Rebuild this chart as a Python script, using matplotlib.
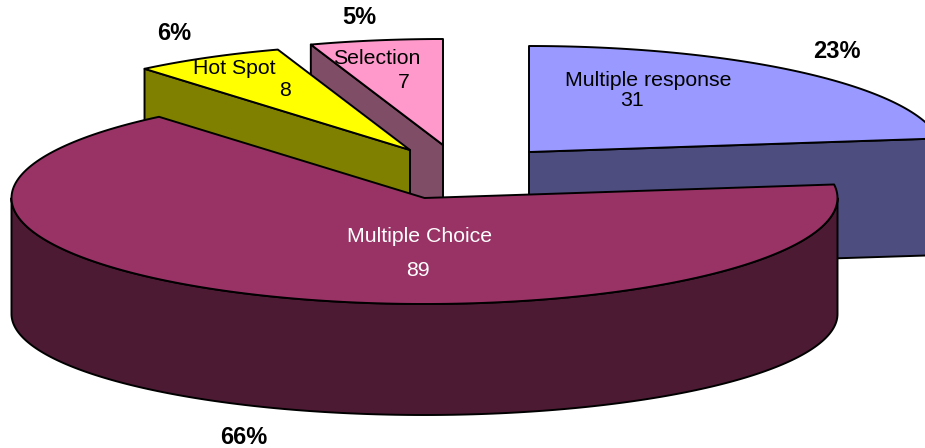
import numpy as np
import matplotlib
matplotlib.use("Agg")
import matplotlib.pyplot as plt

plt.rcParams['font.family'] = ['Liberation Sans', 'DejaVu Sans']

# order is clockwise from 12 o'clock
categories = ["Multiple response", "Multiple Choice", "Hot Spot", "Selection"]
values = [31, 89, 8, 7]

top_colors = ['#9999FF', '#993366', '#FFFF00', '#FF99CC']
side_colors = ['#4D4D80', '#4D1A33', '#808000', '#804D66']

# pie shape in pixels, the lower ellipse is a bit flatter (perspective)
RX, RY, RY_LOW, DEPTH = 413, 106, 101, 116
centers = {
    "Multiple response": (529, 152),
    "Multiple Choice": (424.5, 198),
    "Hot Spot": (410, 150),
    "Selection": (443, 145),
}
draw_order = ["Selection", "Hot Spot", "Multiple response", "Multiple Choice"]
LABEL_SIZE = 15.3

fig = plt.figure(figsize=(9.25, 4.48), dpi=100)
ax = fig.add_axes([0, 0, 1, 1])
ax.set_xlim(0, 925)
ax.set_ylim(448, 0)
ax.axis('off')

total = sum(values)
sweeps = [v / total * 360 for v in values]
starts = 90 - np.cumsum([0] + sweeps[:-1])
angles = {c: (s, s - w) for c, s, w in zip(categories, starts, sweeps)}


def arc(cx, cy, a0, a1, low=False):
    t = np.radians(np.linspace(a0, a1, 200))
    if low:
        return cx + RX * np.cos(t), cy + DEPTH - RY_LOW * np.sin(t)
    return cx + RX * np.cos(t), cy - RY * np.sin(t)


def face(xs, ys, color, z):
    ax.fill(xs, ys, facecolor=color, edgecolor='black', linewidth=1.4,
            joinstyle='round', zorder=z)


z = 1
for name in draw_order:
    i = categories.index(name)
    cx, cy = centers[name]
    a0, a1 = angles[name]

    # only the cut face turned towards the viewer gets drawn
    for a, visible in [(a0, np.cos(np.radians(a0)) < -1e-6), (a1, np.cos(np.radians(a1)) > 1e-6)]:
        if visible:
            xu, yu = arc(cx, cy, a, a)
            xd, yd = arc(cx, cy, a, a, low=True)
            face([cx, xu[0], xd[0], cx], [cy, yu[0], yd[0], cy + DEPTH], side_colors[i], z)

    # outer rim, only the front half of the ellipse shows
    lo, hi = max(a1, -180), min(a0, 0)
    if hi > lo:
        xa, ya = arc(cx, cy, hi, lo)
        xb, yb = arc(cx, cy, lo, hi, low=True)
        face(np.r_[xa, xb], np.r_[ya, yb], side_colors[i], z + 1)

    # top of the slice
    xt, yt = arc(cx, cy, a0, a1)
    face(np.r_[cx, xt], np.r_[cy, yt], top_colors[i], z + 2)
    z += 3

# category name and value labels
ax.text(648, 81, categories[0], fontsize=LABEL_SIZE, ha='center', va='center', zorder=50)
ax.text(632, 100, str(values[0]), fontsize=LABEL_SIZE, ha='center', va='center', zorder=50)
ax.text(420, 236, categories[1], fontsize=LABEL_SIZE, color='white', ha='center', va='center', zorder=50)
ax.text(418, 271, str(values[1]), fontsize=LABEL_SIZE, color='white', ha='center', va='center', zorder=50)
ax.text(234, 68, categories[2], fontsize=LABEL_SIZE, ha='center', va='center', zorder=50)
ax.text(285, 90, str(values[2]), fontsize=LABEL_SIZE, ha='center', va='center', zorder=50)
ax.text(377, 58, categories[3], fontsize=LABEL_SIZE, ha='center', va='center', zorder=50)
ax.text(404, 82, str(values[3]), fontsize=LABEL_SIZE, ha='center', va='center', zorder=50)

# percent labels
pct_pos = [(837, 52), (244, 437), (174, 34), (359, 18)]
for v, (px, py) in zip(values, pct_pos):
    ax.text(px, py, f"{v / total * 100:.0f}%", fontsize=17, fontweight='bold',
            ha='center', va='center', zorder=50)

fig.savefig("out.png", dpi=100)
